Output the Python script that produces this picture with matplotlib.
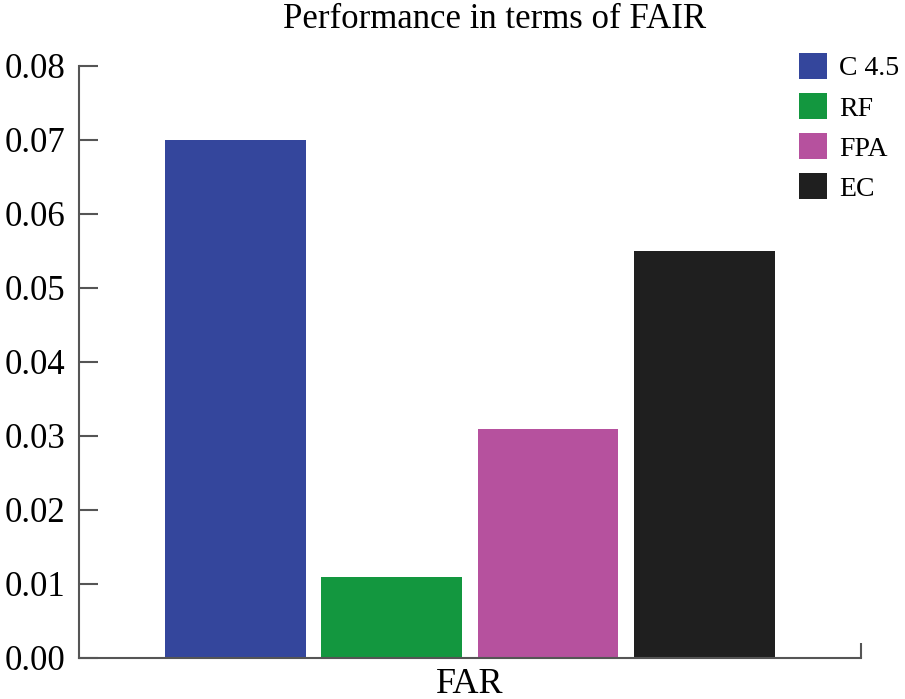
import matplotlib
matplotlib.use("Agg")
import matplotlib.pyplot as plt

# data
methods = ["C 4.5", "RF", "FPA", "EC"]
far_values = [0.070, 0.011, 0.031, 0.055]
bar_colors = ["#34469c", "#13973f", "#b6519e", "#1f1f1f"]
yticks = [0.00, 0.01, 0.02, 0.03, 0.04, 0.05, 0.06, 0.07, 0.08]

plt.rcParams["font.family"] = ["Liberation Serif", "DejaVu Serif"]

fig = plt.figure(figsize=(9.05, 6.99), dpi=100)
ax = fig.add_axes([0.0873, 0.0587, 0.8637, 0.8469])

positions = [0.2, 0.4, 0.6, 0.8]
for pos, val, col, name in zip(positions, far_values, bar_colors, methods):
    ax.bar(pos, val, width=0.18, color=col, label=name)

ax.set_xlim(0, 1)
ax.set_ylim(0, 0.08)
ax.set_yticks(yticks)
ax.set_yticklabels(["%.2f" % t for t in yticks], fontsize=25)
ax.set_xticks([0.5])
ax.set_xticklabels(["FAR"], fontsize=26)
ax.set_xticks([1.0], minor=True)

spine_col = "#555555"
for s in ["top", "right"]:
    ax.spines[s].set_visible(False)
for s in ["left", "bottom"]:
    ax.spines[s].set_color(spine_col)
    ax.spines[s].set_linewidth(1.5)

ax.tick_params(axis="y", direction="in", length=14, width=1.5, color=spine_col, pad=10)
ax.tick_params(axis="x", which="major", length=0, pad=7)
ax.tick_params(axis="x", which="minor", direction="in", length=11, width=1.5, color=spine_col)

fig.text(0.546, 0.972, "Performance in terms of FAIR", ha="center", va="center", fontsize=25)

fig.legend(loc="upper left", bbox_to_anchor=(0.883, 0.924), frameon=False, fontsize=20,
           handlelength=1.0, handleheight=1.05, handletextpad=0.45, labelspacing=0.42,
           borderpad=0, borderaxespad=0)

fig.savefig("out.png", dpi=100)
